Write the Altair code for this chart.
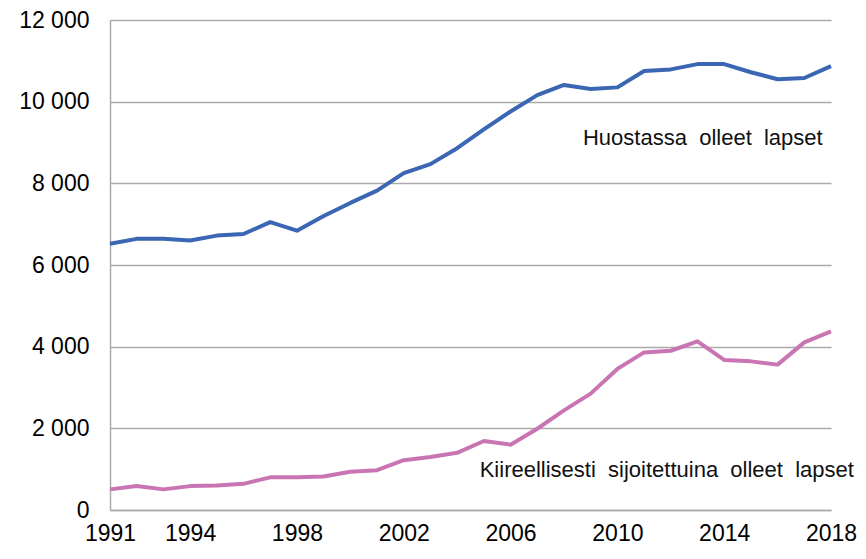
import altair as alt
import pandas as pd

years = list(range(1991, 2019))
huostassa = [6520, 6640, 6640, 6600, 6720, 6760, 7050, 6840, 7200, 7520, 7820, 8250,
             8470, 8860, 9320, 9760, 10160, 10410, 10310, 10350, 10750, 10790, 10920,
             10920, 10720, 10550, 10580, 10870]
kiireelliset = [505, 590, 505, 585, 600, 640, 800, 800, 820, 935, 975, 1220, 1300, 1400,
                1690, 1600, 1990, 2440, 2850, 3455, 3860, 3900, 4130, 3675, 3640, 3560,
                4105, 4375]
series_names = ["Huostassa olleet lapset", "Kiireellisesti sijoitettuina olleet lapset"]
series_colors = ["#3a66b3", "#c975b3"]
x_ticks = [1991, 1994, 1998, 2002, 2006, 2010, 2014, 2018]
y_ticks = [0, 2000, 4000, 6000, 8000, 10000, 12000]

# label anchors (data coordinates)
label_x = [2013.2, 2011.85]
label_y = [9100, 970]

rows = []
for y, a, b in zip(years, huostassa, kiireelliset):
    rows.append({"year": y, "value": a, "series": series_names[0]})
    rows.append({"year": y, "value": b, "series": series_names[1]})
df = pd.DataFrame(rows)

labels = pd.DataFrame({
    "x": label_x,
    "y": label_y,
    "text": ["Huostassa\u00a0 olleet\u00a0 lapset",
             "Kiireellisesti\u00a0 sijoitettuina\u00a0 olleet\u00a0 lapset"],
})

font = "Liberation Sans"

xscale = alt.Scale(domain=[1991, 2018], nice=False, zero=False)
yscale = alt.Scale(domain=[0, 12000], nice=False)

lines = alt.Chart(df).mark_line(strokeWidth=4, strokeCap="butt", strokeJoin="round").encode(
    x=alt.X("year:Q", scale=xscale,
            axis=alt.Axis(values=x_ticks, format="d", title=None, grid=False,
                          ticks=False, domain=True, domainColor="#aaaaaa", domainWidth=1.5,
                          labelFont=font, labelFontSize=23, labelColor="#000000",
                          labelPadding=12, labelFlush=False, labelOverlap=False)),
    y=alt.Y("value:Q", scale=yscale,
            axis=alt.Axis(values=y_ticks, title=None, grid=True, gridColor="#aaaaaa",
                          gridWidth=1.3, ticks=False, domain=True, domainColor="#aaaaaa",
                          domainWidth=1.5,
                          labelExpr="replace(format(datum.value, ','), ',', ' ')",
                          labelFont=font, labelFontSize=23, labelColor="#000000",
                          labelPadding=21)),
    color=alt.Color("series:N", scale=alt.Scale(domain=series_names, range=series_colors),
                    legend=None),
    detail="series:N",
)

text = alt.Chart(labels).mark_text(font=font, fontSize=22, color="#111111",
                                   align="center", baseline="middle").encode(
    x=alt.X("x:Q", scale=xscale),
    y=alt.Y("y:Q", scale=yscale),
    text="text:N",
)

chart = alt.layer(lines, text).properties(
    width=721,
    height=490,
    autosize=alt.AutoSizeParams(type="none"),
    padding={"left": 102, "top": 12, "right": 27, "bottom": 38},
).configure_view(stroke=None)

chart.save("out.html", embed_options={"renderer": "svg", "actions": False})
